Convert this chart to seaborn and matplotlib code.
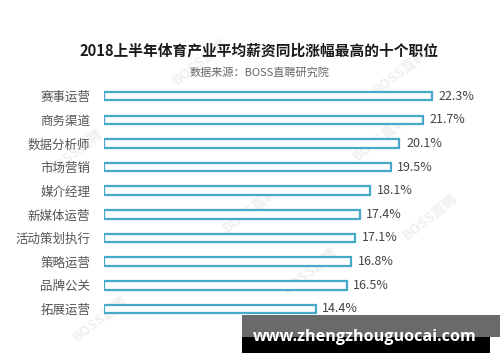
import matplotlib
matplotlib.use("Agg")
import matplotlib.pyplot as plt
import seaborn as sns
import pandas as pd
from matplotlib.patches import Rectangle

categories = ["赛事运营", "商务渠道", "数据分析师", "市场营销", "媒介经理",
              "新媒体运营", "活动策划执行", "策略运营", "品牌公关", "拓展运营"]
values = [22.3, 21.7, 20.1, 19.5, 18.1, 17.4, 17.1, 16.8, 16.5, 14.4]
value_labels = ["22.3%", "21.7%", "20.1%", "19.5%", "18.1%",
                "17.4%", "17.1%", "16.8%", "16.5%", "14.4%"]
title = "2018上半年体育产业平均薪资同比涨幅最高的十个职位"
subtitle = "数据来源：BOSS直聘研究院"
site = "www.zhengzhouguocai.com"

sns.set_theme(style="white")
plt.rcParams['font.family'] = ['Noto Sans CJK SC', 'DejaVu Sans']

df = pd.DataFrame({"cat": categories, "val": values})

fig = plt.figure(figsize=(5.0, 3.62), dpi=100)
ax = fig.add_axes([0.2086, 0.114, 0.7634, 0.653])
ax.set_facecolor("none")
ax.set_zorder(2)

sns.barplot(data=df, x="val", y="cat", orient="h", color="white",
            edgecolor="#47a9c9", linewidth=1.6, width=0.36, ax=ax)

ax.set_xlim(0, 26)
ax.set_ylim(9.5, -0.5)
ax.set_xlabel("")
ax.set_ylabel("")
ax.set_xticks([])
for s in ax.spines.values():
    s.set_visible(False)
ax.tick_params(axis="y", length=0, pad=10, labelsize=9, labelcolor="#555555")

for i, (v, lab) in enumerate(zip(values, value_labels)):
    ax.text(v + 0.45, i, lab, va="center", ha="left", fontsize=9, color="#444444")

fig.text(0.518, 0.862, title, ha="center", va="center", fontsize=10.6,
         fontweight="bold", color="#1a1a1a", zorder=3)
fig.text(0.52, 0.801, subtitle, ha="center", va="center", fontsize=8,
         color="#666666", zorder=3)

# faint watermarks
for (x, y, r) in [(0.40, 0.83, 38), (0.80, 0.80, 38), (0.15, 0.58, 38),
                  (0.76, 0.62, 38), (0.50, 0.42, 38), (0.86, 0.40, 38),
                  (0.62, 0.25, 38), (0.20, 0.12, 38)]:
    fig.text(x, y, "BOSS直聘", rotation=r, ha="center", va="center",
             fontsize=10, fontweight="bold", color="#f0f0f0", zorder=0)

# bottom site banner
fig.patches.append(Rectangle((242/500, 1-337/362), 258/500, 22/362,
                             transform=fig.transFigure, facecolor="#6a6a6a",
                             edgecolor="none", zorder=5))
fig.patches.append(Rectangle((242/500, 1-353/362), 248/500, 16/362,
                             transform=fig.transFigure, facecolor="#000000",
                             edgecolor="none", zorder=5))
fig.text(253/500, 1-337/362, site, ha="left", va="center", fontsize=11.6,
         fontweight="bold", color="white", family=["Open Sans", "DejaVu Sans"],
         zorder=6)

fig.savefig("out.png", dpi=100, facecolor="white")
